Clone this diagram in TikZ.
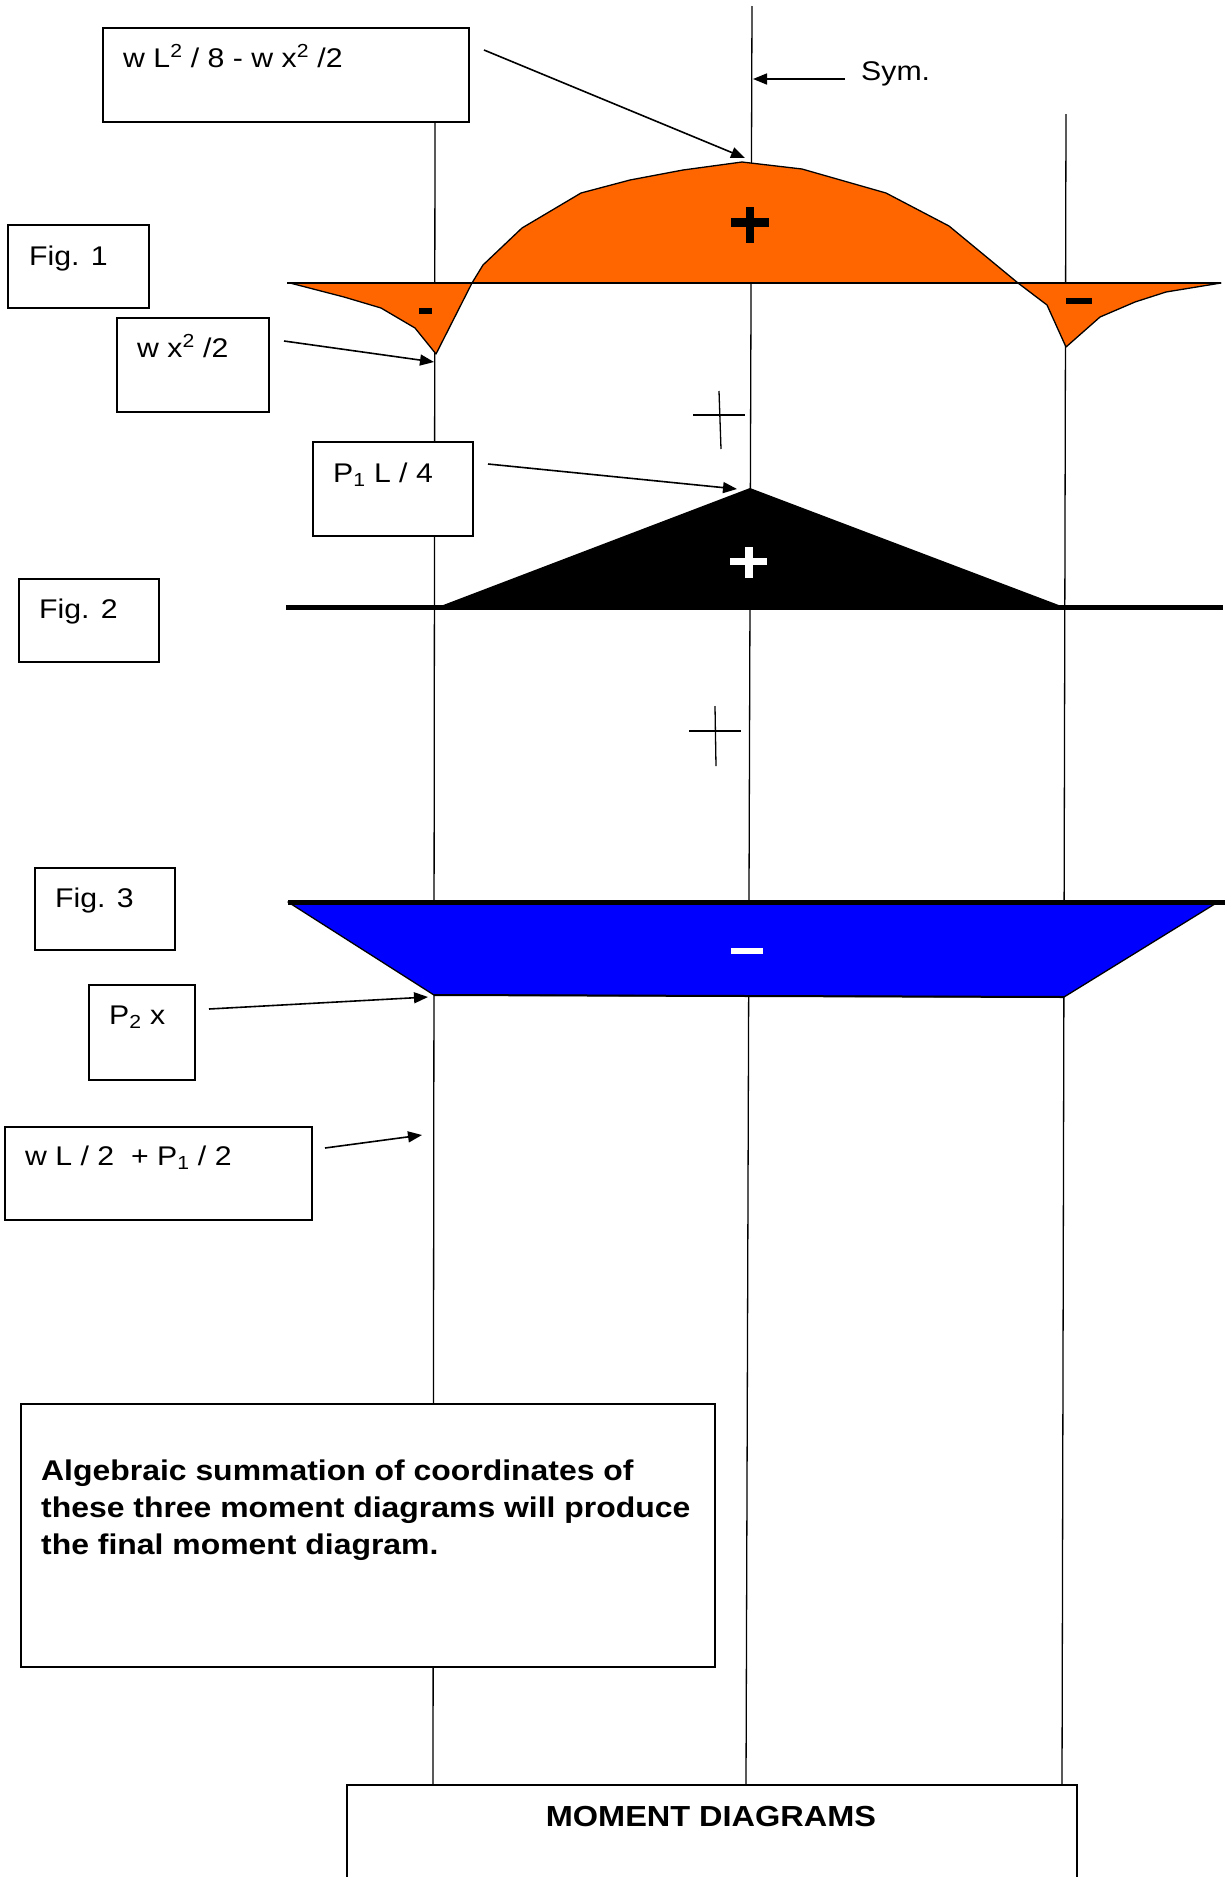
\documentclass[tikz,border=0pt]{standalone}
\usepackage{fontspec}
\setmainfont{Liberation Sans}[FakeStretch=1.12]
\usetikzlibrary{arrows.meta}
\definecolor{orng}{HTML}{FF6600}
\definecolor{blu}{HTML}{0000FF}
\tikzset{
  thinln/.style={line width=1.3pt},
  lblbox/.style={draw, line width=2pt, fill=white, inner sep=0pt, anchor=north west},
  lbl/.style={inner sep=0pt, anchor=base west, font=\fontsize{27}{32}\selectfont},
  boldlbl/.style={inner sep=0pt, anchor=base west, font=\fontsize{28.5}{34}\selectfont\bfseries},
  pointer/.style={line width=1.6pt, -{Triangle[length=14pt,width=11pt]}},
}
\begin{document}
\begin{tikzpicture}[x=1pt,y=-1pt]
\useasboundingbox (0,0) rectangle (1225,1877);
\fill[white] (0,0) rectangle (1225,1877);

% vertical reference lines
\coordinate (ctop) at (752,6);
\coordinate (cbot) at (746,1785);
\coordinate (ltop) at (435,121);
\coordinate (lbot) at (433,1785);
\coordinate (rtop) at (1066,114);
\coordinate (rbot) at (1062,1785);
\draw[thinln] (ctop) -- (cbot);
\draw[thinln] (ltop) -- (lbot);
\draw[thinln] (rtop) -- (rbot);

% Fig. 1 : orange moment diagram
\filldraw[fill=orng, draw=black, thinln, line join=round]
  (472,283) -- (483,265) -- (522,228) -- (581,193) -- (630,180) -- (683,170)
  -- (742,162) -- (802,169) -- (886,193) -- (949,226) -- (1018,283) -- cycle;
\filldraw[fill=orng, draw=black, thinln, line join=round]
  (290,283) -- (344,297) -- (381,308) -- (415,328) -- (436,354) -- (472,283) -- cycle;
\filldraw[fill=orng, draw=black, thinln, line join=round]
  (1018,283) -- (1047,305) -- (1066,347) -- (1100,317) -- (1135,302) -- (1166,292) -- (1221,283) -- cycle;
\draw[line width=2.5pt] (287,283) -- (1221,283);
\fill (731,218) rectangle (769,227);
\fill (746,207) rectangle (754,243);
\fill (419,308) rectangle (432,314);
\fill (1066,298) rectangle (1092,304);

% small crosses
\draw[thinln] (693,415) -- (745,415);
\draw[thinln] (719,391) -- (721,449);
\draw[thinln] (689,731) -- (741,731);
\draw[thinln] (715,706) -- (716,766);

% Fig. 2 : black triangle
\fill (438,607) -- (750,488) -- (1064,607) -- cycle;
\draw[line width=5pt] (286,607) -- (1223,607);
\fill[white] (730,558) rectangle (767,565);
\fill[white] (745,547) rectangle (753,578);

% Fig. 3 : blue trapezoid
\filldraw[fill=blu, draw=black, thinln, line join=round]
  (288,902) -- (1218,902) -- (1064,997) -- (434,995) -- cycle;
\draw[line width=2pt] (434,995) -- (1064,997);
\draw[line width=5pt] (288,902) -- (1225,902);
\fill[white] (731,948) rectangle (763,954);

% label boxes
\node[lblbox, minimum width=366pt, minimum height=94pt] (b1) at (102,27) {};
\node[lblbox, minimum width=141pt, minimum height=83pt] (fig1) at (7,224) {};
\node[lblbox, minimum width=152pt, minimum height=94pt] (b2) at (116,317) {};
\node[lblbox, minimum width=160pt, minimum height=94pt] (b3) at (312,441) {};
\node[lblbox, minimum width=140pt, minimum height=83pt] (fig2) at (18,578) {};
\node[lblbox, minimum width=140pt, minimum height=82pt] (fig3) at (34,867) {};
\node[lblbox, minimum width=106pt, minimum height=95pt] (b4) at (88,984) {};
\node[lblbox, minimum width=307pt, minimum height=93pt] (b5) at (4,1126) {};
\node[lblbox, minimum width=694pt, minimum height=263pt] (sumbox) at (20,1403) {};
\draw[line width=2pt, fill=white] (347,1895) |- (1077,1785) -- (1077,1895);

% texts
\node[lbl] (t1) at (123,67) {w L\textsuperscript{2} / 8 - w x\textsuperscript{2} /2};
\node[lbl] (tsym) at (861,80) {Sym.};
\node[lbl] (tf1) at (29,265) {Fig. 1};
\node[lbl] (t2) at (137,357) {w x\textsuperscript{2} /2};
\node[lbl] (t3) at (333,482) {P\textsubscript{1} L / 4};
\node[lbl] (tf2) at (39,618) {Fig. 2};
\node[lbl] (tf3) at (55,907) {Fig. 3};
\node[lbl] (t4) at (109,1024) {P\textsubscript{2} x};
\node[lbl] (t5) at (25,1165) {w L / 2 \ + P\textsubscript{1} / 2};
\node[boldlbl] (s1) at (41,1480) {Algebraic summation of coordinates of};
\node[boldlbl] (s2) at (41,1517) {these three moment diagrams will produce};
\node[boldlbl] (s3) at (41,1554) {the final moment diagram.};
\node[inner sep=0pt, anchor=base, font=\fontsize{29}{34}\selectfont\bfseries] (md) at (711,1826) {MOMENT DIAGRAMS};

% pointers
\coordinate (p1s) at (484,50);   \coordinate (p1e) at (745,158);
\coordinate (syms) at (845,79);  \coordinate (syme) at (753,79);
\coordinate (p2s) at (284,341);  \coordinate (p2e) at (434,362);
\coordinate (p3s) at (488,464);  \coordinate (p3e) at (737,489);
\coordinate (p4s) at (209,1009); \coordinate (p4e) at (428,997);
\coordinate (p5s) at (325,1148); \coordinate (p5e) at (422,1135);
\draw[pointer] (p1s) -- (p1e);
\draw[pointer] (syms) -- (syme);
\draw[pointer] (p2s) -- (p2e);
\draw[pointer] (p3s) -- (p3e);
\draw[pointer] (p4s) -- (p4e);
\draw[pointer] (p5s) -- (p5e);
\end{tikzpicture}
\end{document}
